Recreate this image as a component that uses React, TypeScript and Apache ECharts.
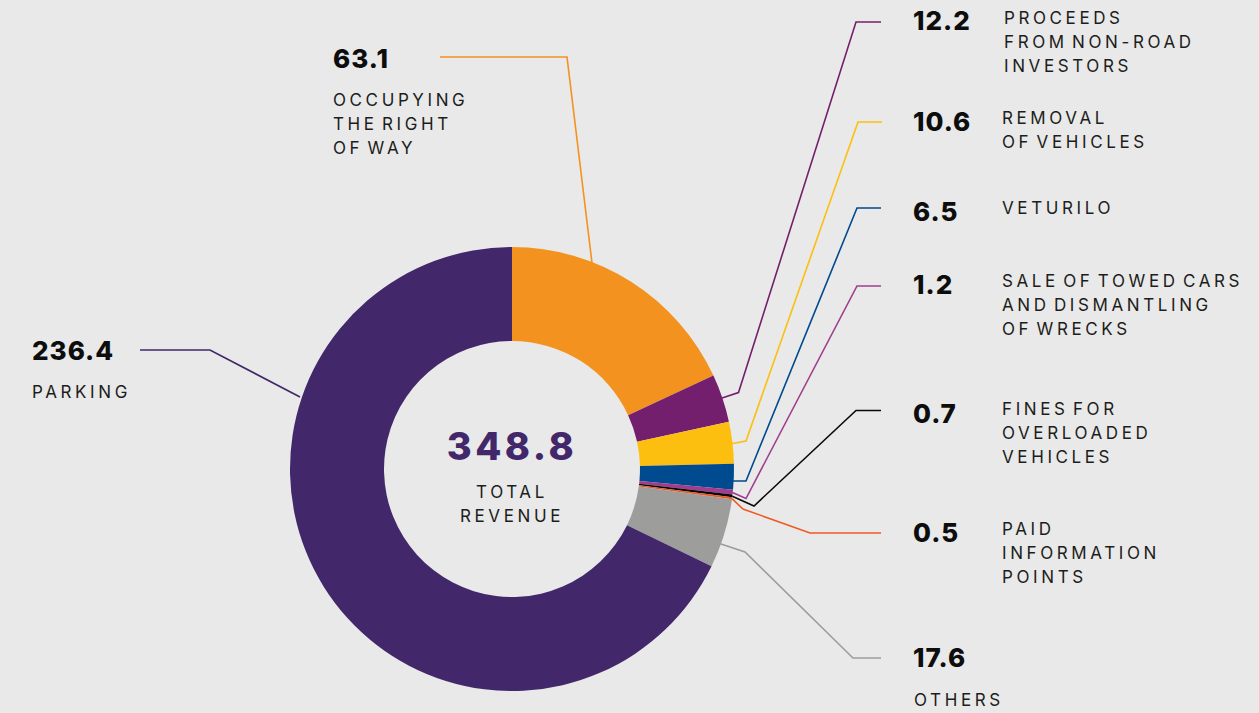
import React, { useEffect, useRef } from "react";
import * as echarts from "echarts";

// ---- data ----
const names = [
  "Occupying the right of way",
  "Proceeds from non-road investors",
  "Removal of vehicles",
  "Veturilo",
  "Sale of towed cars and dismantling of wrecks",
  "Fines for overloaded vehicles",
  "Paid information points",
  "Others",
  "Parking",
];
const values = [63.1, 12.2, 10.6, 6.5, 1.2, 0.7, 0.5, 17.6, 236.4];
const labelLines = [
  ["OCCUPYING", "THE RIGHT", "OF WAY"],
  ["PROCEEDS", "FROM NON-ROAD", "INVESTORS"],
  ["REMOVAL", "OF VEHICLES"],
  ["VETURILO"],
  ["SALE OF TOWED CARS", "AND DISMANTLING", "OF WRECKS"],
  ["FINES FOR", "OVERLOADED", "VEHICLES"],
  ["PAID", "INFORMATION", "POINTS"],
  ["OTHERS"],
  ["PARKING"],
];
const totalLines = ["TOTAL", "REVENUE"];

// ---- styles / layout ----
const colors = [
  "#f3921f",
  "#741f6d",
  "#fcbf10",
  "#004a8f",
  "#a13d8e",
  "#0a0a0a",
  "#f05a22",
  "#9d9d9c",
  "#42276a",
];
const BG = "#e8e9e8";
const NUM_FONT = "800 26px Inter";
const TXT_FONT = "400 17px Inter";
const TOTAL_FONT = "800 38px Inter";

const layout = [
  { numX: 333, numY: 58.5, txtX: 333, txtY: 100, line: [[592, 263], [567, 57], [440, 57]] },
  { numX: 913, numY: 20.5, txtX: 1004, txtY: 17.5, line: [[719, 399], [738.5, 392.5], [856, 22], [881, 22]] },
  { numX: 913, numY: 121, txtX: 1002, txtY: 117.5, line: [[730, 444], [746, 441], [858, 122], [882, 122]] },
  { numX: 913, numY: 211, txtX: 1002, txtY: 207.5, line: [[732, 481], [746, 481], [857, 208], [881, 208]] },
  { numX: 913, numY: 284, txtX: 1002, txtY: 280.5, line: [[732.5, 492.5], [746, 498.5], [857, 286], [881, 286]] },
  { numX: 913, numY: 413, txtX: 1002, txtY: 409, line: [[732.3, 496.3], [754, 506], [856, 410.5], [881, 410.5]] },
  { numX: 913, numY: 532, txtX: 1002, txtY: 528.5, line: [[732, 498.6], [743, 509], [810, 533], [881, 533]] },
  { numX: 913, numY: 657.5, txtX: 914, txtY: 699.5, line: [[718, 543], [745, 552], [853, 658], [881, 658]] },
  { numX: 32, numY: 350, txtX: 32, txtY: 391.5, line: [[300, 397], [210, 350], [140, 350]] },
];

export default function App() {
  const ref = useRef<HTMLDivElement>(null);

  useEffect(() => {
    document.body.style.margin = "0";
    const chart = echarts.init(ref.current!, null, { renderer: "svg" });

    const graphics: any[] = [];
    layout.forEach((l, i) => {
      graphics.push({
        type: "polyline",
        silent: true,
        z: 5,
        shape: { points: l.line },
        style: { stroke: colors[i], lineWidth: 1.6, fill: "none" },
      });
      graphics.push({
        type: "text",
        x: l.numX,
        y: l.numY,
        style: {
          text: values[i].toFixed(1),
          font: NUM_FONT,
          fill: "#0d0d0d",
          align: "left",
          verticalAlign: "middle",
        },
      });
      graphics.push({
        type: "text",
        x: l.txtX,
        y: l.txtY - 12,
        style: {
          text: labelLines[i].join("\n"),
          font: TXT_FONT,
          lineHeight: 24,
          fill: "#1d1d1b",
          align: "left",
          verticalAlign: "top",
        },
      });
    });

    const total = values.reduce((a, b) => a + b, 0);
    graphics.push({
      type: "text",
      x: 512,
      y: 445.5,
      style: {
        text: total.toFixed(1),
        font: TOTAL_FONT,
        fill: "#42276a",
        align: "center",
        verticalAlign: "middle",
      },
    });
    graphics.push({
      type: "text",
      x: 512,
      y: 480,
      style: {
        text: totalLines.join("\n"),
        font: TXT_FONT,
        lineHeight: 24,
        fill: "#1d1d1b",
        align: "center",
        verticalAlign: "top",
      },
    });

    chart.setOption({
      animation: false,
      backgroundColor: BG,
      series: [
        {
          type: "pie",
          silent: true,
          center: [512, 469],
          radius: [128, 222],
          startAngle: 90,
          clockwise: true,
          avoidLabelOverlap: false,
          label: { show: false },
          labelLine: { show: false },
          emphasis: { disabled: true },
          itemStyle: { borderWidth: 0 },
          data: values.map((v, i) => ({
            name: names[i],
            value: v,
            itemStyle: { color: colors[i] },
          })),
        },
      ],
      graphic: graphics,
    });

    return () => chart.dispose();
  }, []);

  return (
    <>
      <style>{`
        #chart text[style*="17px"] { letter-spacing: 3.6px; word-spacing: -4px; }
        #chart text[style*="26px"] { letter-spacing: 1px; }
        #chart text[style*="38px"] { letter-spacing: 3.5px; }
      `}</style>
      <div
        id="chart"
        ref={ref}
        style={{
          position: "fixed",
          left: 0,
          top: 0,
          width: 1259,
          height: 713,
          background: BG,
        }}
      />
    </>
  );
}
